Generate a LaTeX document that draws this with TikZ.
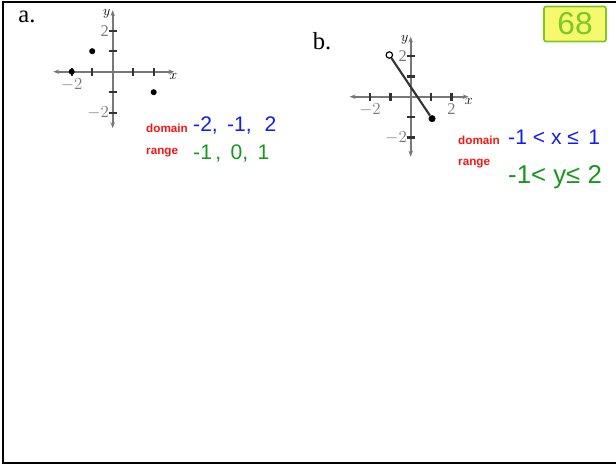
\documentclass[tikz,border=0pt]{standalone}
\usepackage{fontspec}
\setmainfont{Liberation Serif}
\setsansfont{Liberation Sans}
\usepackage{tikz}
\usetikzlibrary{arrows.meta}

\definecolor{penblue}{RGB}{20,30,235}
\definecolor{pengreen}{RGB}{25,150,30}
\definecolor{labred}{RGB}{250,20,20}
\definecolor{hilite}{RGB}{246,248,110}
\definecolor{lime}{RGB}{125,200,35}
\definecolor{axisgray}{RGB}{120,120,120}

\tikzset{
  axisline/.style={axisgray, line width=1.6pt, {Stealth[length=5pt]}-{Stealth[length=5pt]}},
  tickmark/.style={black!80, line width=2pt},
  ticklbl/.style={axisgray, font=\fontsize{14}{15}\selectfont, inner sep=1pt},
  varlbl/.style={font=\fontsize{13}{14}\selectfont\itshape, inner sep=1pt},
  partlbl/.style={font=\fontsize{21}{24}\selectfont},
  redlbl/.style={labred, font=\sffamily\bfseries\fontsize{10}{12}\selectfont, anchor=base west, inner sep=0pt},
  hand/.style={font=\sffamily\fontsize{18}{21}\selectfont, anchor=base west, inner sep=0pt}
}

\begin{document}
\begin{tikzpicture}[x=0.3mm, y=-0.3mm]
  \useasboundingbox (0,0) rectangle (616,465);
  % page frame
  \draw[line width=1.6pt] (616,2) -- (3,2) -- (3,463) -- (616,463);
  % page number
  \node[fill=hilite, draw=lime, line width=1.5pt, rounded corners=2pt,
        minimum width=53pt, minimum height=30pt] (pg) at (575,24) {};
  \node[lime, font=\sffamily\fontsize{27}{30}\selectfont] (pgnum) at (pg) {68};

  % graph a
  \node[partlbl] (parta) at (27,17) {a.};
  \begin{scope}[shift={(112.7,71.7)}, x=6.15mm, y=6.15mm]
    \coordinate (axl) at (-2.9,0); \coordinate (axr) at (3.0,0);
    \coordinate (ayb) at (0,-2.75); \coordinate (ayt) at (0,3.0);
    \draw[axisline] (axl) -- (axr);
    \draw[axisline] (ayb) -- (ayt);
    \foreach \t in {-2,-1,1,2} {
      \draw[tickmark] (\t,-0.2) -- (\t,0.2);
      \draw[tickmark] (-0.2,\t) -- (0.2,\t);
    }
    \node[varlbl, below right] (ax) at (2.7,0) {$x$};
    \node[varlbl, left] (ay) at (-0.05,2.8) {$y$};
    \node[ticklbl, below] (ax2) at (-2,-0.25) {$-2$};
    \node[ticklbl, left] (ay2) at (-0.12,2) {2};
    \node[ticklbl, left] (ayn2) at (-0.12,-2) {$-2$};
    % points
    \fill (-2,0) circle (2.6pt);
    \fill (-1,1) circle (2.6pt);
    \fill (2,-1) circle (2.6pt);
  \end{scope}
  \node[redlbl] (doma) at (146,132.5) {domain};
  \node[redlbl] (rnga) at (146,154) {range};
  \node[hand, penblue] (doma-val) at (193,131.5) {-2,\, -1,\,\, 2};
  \node[hand, pengreen] (rnga-val) at (193,159) {-1\,,\, 0,\, 1};

  % graph b
  \node[partlbl] (partb) at (322,41) {b.};
  \begin{scope}[shift={(410.7,96.7)}, x=6.1mm, y=6.1mm]
    \coordinate (bxl) at (-3.0,0); \coordinate (bxr) at (2.85,0);
    \coordinate (byb) at (0,-2.95); \coordinate (byt) at (0,2.95);
    \draw[axisline] (bxl) -- (bxr);
    \draw[axisline] (byb) -- (byt);
    \foreach \t in {-2,-1,1,2} {
      \draw[tickmark] (\t,-0.2) -- (\t,0.2);
      \draw[tickmark] (-0.2,\t) -- (0.2,\t);
    }
    \node[varlbl, below right] (bx) at (2.6,0) {$x$};
    \node[varlbl, left] (by) at (-0.05,2.8) {$y$};
    \node[ticklbl, below] (bx-2) at (-2,-0.25) {$-2$};
    \node[ticklbl, below] (bx2) at (2,-0.25) {2};
    \node[ticklbl, left] (by2) at (-0.12,2) {2};
    \node[ticklbl, left] (byn2) at (-0.12,-2) {$-2$};
    % segment
    \node[circle, draw, line width=1pt, fill=white, inner sep=0pt, minimum size=5.5pt] (open) at (-1.05,2.05) {};
    \node[circle, fill, inner sep=0pt, minimum size=6pt] (closed) at (1.05,-1.08) {};
    \draw[black!80, line width=1.8pt] (open) -- (closed);
  \end{scope}
  \node[redlbl] (domb) at (458,144) {domain};
  \node[redlbl] (rngb) at (458,165) {range};
  \node[hand, penblue] (domb-val) at (508,144) {-1 < x ≤\, 1};
  \node[hand, pengreen, font=\sffamily\fontsize{22}{25}\selectfont] (rngb-val) at (508,183) {-1< y≤ 2};
\end{tikzpicture}
\end{document}
